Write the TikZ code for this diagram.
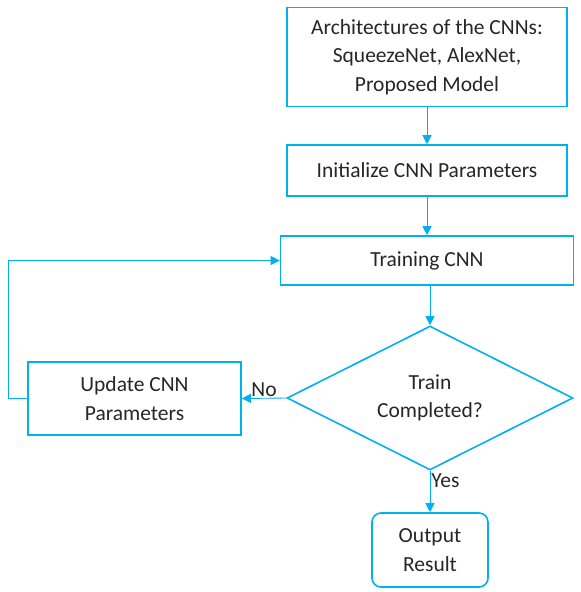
\documentclass[tikz,border=0pt]{standalone}
\usepackage{fontspec}
\setmainfont{Carlito}
\usetikzlibrary{positioning, shapes.geometric, arrows.meta}
\definecolor{flowblue}{HTML}{00B0F0}
\definecolor{flowtext}{HTML}{262626}

\begin{document}
\begin{tikzpicture}[
		x=1pt, y=-1pt,
		stepbox/.style={draw=flowblue, line width=1.6pt, align=center, inner sep=0pt,
			text=flowtext, font=\fontsize{21.5}{28.5}\selectfont},
		decision/.style={diamond, shape aspect=2, draw=flowblue, line width=1.6pt, align=center, inner sep=0pt,
			text=flowtext, font=\fontsize{21.5}{28.5}\selectfont},
		flow/.style={draw=flowblue, line width=0.9pt, -{Triangle[length=9pt, width=9pt]}},
		lbl/.style={text=flowtext, font=\fontsize{21.5}{24}\selectfont, inner sep=1pt}
		]
		\useasboundingbox (0,0) rectangle (581,592);
		
		% Les blocs
		\node[stepbox, minimum width=280pt, minimum height=99pt] (arch) at (427, 57)
			{Architectures of the CNNs:\\SqueezeNet, AlexNet,\\Proposed Model};
		\node[stepbox, minimum width=280pt, minimum height=51pt] (init) at (427, 170.5)
			{Initialize CNN Parameters};
		\node[stepbox, minimum width=293pt, minimum height=49pt] (train) at (427, 260.5)
			{Training CNN};
		\node[decision, minimum width=286pt, minimum height=144pt] (check) at (430, 398)
			{Train\\Completed?};
		\node[stepbox, minimum width=213pt, minimum height=73pt] (update) at (134.5, 398.5)
			{Update CNN\\Parameters};
		\node[stepbox, rounded corners=9pt, minimum width=116pt, minimum height=74pt] (output) at (430, 550)
			{Output\\Result};
		
		% Les liaisons
		\draw[flow] (arch) -- (init);
		\draw[flow] (init) -- (train);
		\draw[flow] (train.south -| check.north) -- (check.north);
		\draw[flow] (check.west) -- node[lbl, above] {No} (update.east);
		\draw[flow] (check.south) -- node[lbl, right, pos=0.25] {Yes} (output.north);
		\draw[flow] (update.west) -- ++(-19,0) |- (train.west);
	\end{tikzpicture}
\end{document}
